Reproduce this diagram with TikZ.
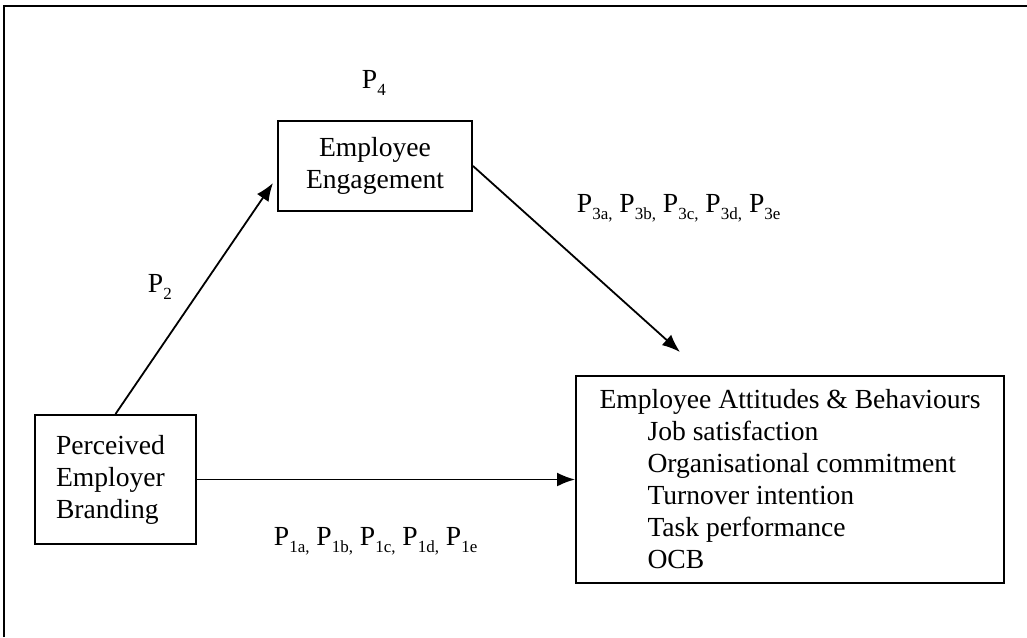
\documentclass[tikz,border=0pt]{standalone}
\usepackage{fontspec}
\setmainfont{Liberation Serif}
\usepackage{tikz}
\usetikzlibrary{arrows.meta,positioning}

\newcommand{\psub}[1]{\raisebox{-3.5pt}{\fontsize{8.5}{9}\selectfont #1}}

\tikzset{
  box/.style={draw, line width=1pt, inner sep=0pt},
  plabel/.style={inner sep=0pt, anchor=base west},
}

\begin{document}
\begin{tikzpicture}[x=0.5pt,y=-0.5pt,>={Latex[length=9pt,width=7pt]},line width=0.9pt,
  font=\fontsize{13.8}{16}\selectfont]
\useasboundingbox (0,0) rectangle (1027,637);
\draw[line width=1pt] (4,637) -- (4,6) -- (1027,6);

\node (EE) [box, align=center, minimum width=97pt, minimum height=45pt] at (375,166) {Employee\\Engagement};
\node (PEB) [box, align=left, text width=59.5pt, minimum width=80.5pt, minimum height=64.5pt] at (115.5,479.5) {Perceived\\Employer\\Branding};
\node (EAB) [box, align=left, minimum width=214pt, minimum height=103.5pt] at (790,479.5)
  {Employee Attitudes \& Behaviours\\
   \hspace{24pt}Job satisfaction\\
   \hspace{24pt}Organisational commitment\\
   \hspace{24pt}Turnover intention\\
   \hspace{24pt}Task performance\\
   \hspace{24pt}OCB};

\node (P4) [plabel] at (361,88) {P\psub{4}};
\node (P2) [plabel] at (147,292) {P\psub{2}};
\node (P3) [plabel] at (576,212) {P\psub{3a,} P\psub{3b,} P\psub{3c,} P\psub{3d,} P\psub{3e}};
\node (P1) [plabel] at (273,545) {P\psub{1a,} P\psub{1b,} P\psub{1c,} P\psub{1d,} P\psub{1e}};

\coordinate (EEin) at ([xshift=-2pt,yshift=-8.5pt]EE.west);
\coordinate (EABin) at ([xshift=-55pt,yshift=11.5pt]EAB.north);

\draw[->] (PEB.north) -- (EEin);
\draw[->] (EE.east) -- (EABin);
\draw[->] (PEB.east) -- (EAB.west);

\end{tikzpicture}
\end{document}
